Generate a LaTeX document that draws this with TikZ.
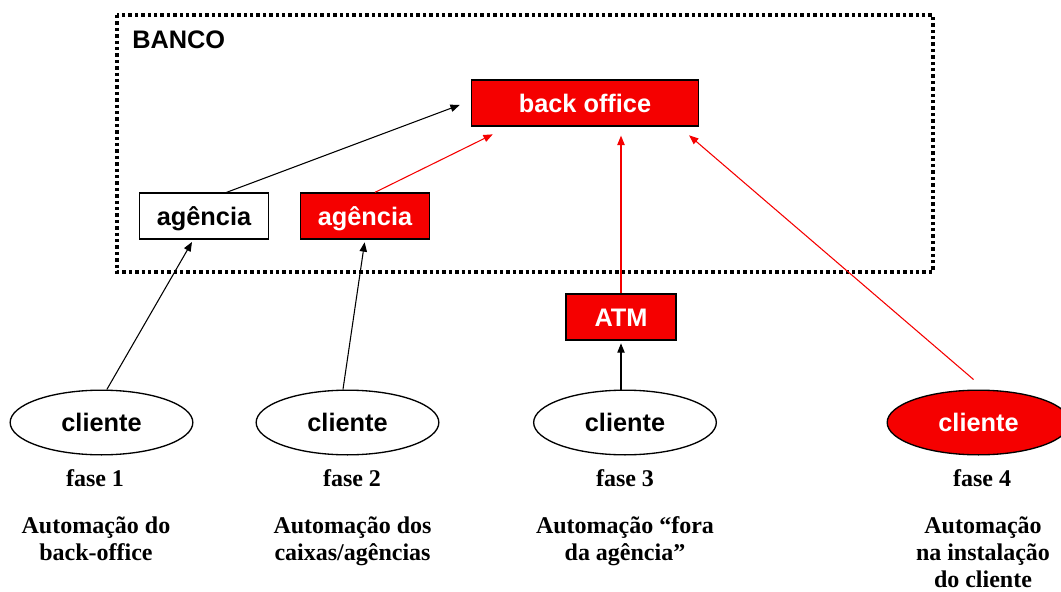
\documentclass[tikz,border=0pt]{standalone}
\usepackage{fontspec}
\setmainfont{Liberation Serif}
\setsansfont{Liberation Sans}
\usetikzlibrary{arrows.meta}
\usetikzlibrary{shapes.geometric}
\definecolor{vermelho}{RGB}{245,0,0}
\begin{document}
\begin{tikzpicture}[x=0.75pt,y=-0.75pt,
	caixa/.style={draw=black,line width=1pt,minimum height=34.5pt,inner sep=0pt,
		text height=14.5pt,text depth=0pt,
		font=\sffamily\bfseries\fontsize{19}{22}\selectfont},
	caixav/.style={caixa,fill=vermelho,text=white},
	cli/.style={ellipse,draw=black,line width=1pt,minimum width=137pt,minimum height=48.5pt,
		inner sep=0pt,text height=14pt,text depth=0pt,
		font=\sffamily\bfseries\fontsize{19}{22}\selectfont},
	seta/.style={-{Triangle[length=7pt,width=5.5pt]},line width=0.8pt},
	fase/.style={inner sep=0pt,align=center,font=\rmfamily\bfseries\fontsize{18}{20.25}\selectfont}]
		\useasboundingbox (0,0) rectangle (1061,592);
		% banco
		\draw[line width=2.6pt,dash pattern=on 2.6pt off 2.2pt] (117,15) rectangle (933,272);
		\node[anchor=base west,inner sep=0pt,font=\sffamily\bfseries\fontsize{19}{22}\selectfont] (banco) at (132,48.5) {BANCO};
		\node[caixav,minimum width=170pt] (bo) at (585,103) {back office};
		\node[caixa,minimum width=97pt] (ag1) at (204,216) {agência};
		\node[caixav,minimum width=97pt] (ag2) at (365,216) {agência};
		\node[caixav,minimum width=82.5pt] (atm) at (621,317) {ATM};
		% clientes
		\node[cli] (cl1) at (101.5,422.5) {cliente};
		\node[cli] (cl2) at (347.5,422.5) {cliente};
		\node[cli] (cl3) at (625,422.5) {cliente};
		\node[cli,fill=vermelho,text=white] (cl4) at (978.5,422.5) {cliente};
		% fases
		\node[fase,anchor=base] (f1) at (95,486) {fase 1};
		\node[fase,anchor=base] (f2) at (352,486) {fase 2};
		\node[fase,anchor=base] (f3) at (625,486) {fase 3};
		\node[fase,anchor=base] (f4) at (982,486) {fase 4};
		\node[fase,anchor=north] (d1) at (96,516.5) {Automação do\\back-office};
		\node[fase,anchor=north] (d2) at (352.5,516.5) {Automação dos\\caixas/agências};
		\node[fase,anchor=north] (d3) at (625,516.5) {Automação “fora\\da agência”};
		\node[fase,anchor=north] (d4) at (983,516.5) {Automação\\na instalação\\do cliente};
		% setas
		\draw[seta,shorten >=2pt] ([xshift=4pt]cl1.north) -- ([xshift=-8pt]ag1.south);
		\draw[seta,shorten >=2pt] ([xshift=-3.4pt]cl2.north) -- (ag2.south);
		\draw[seta,shorten >=2pt] (cl3.north -| atm.south) -- (atm.south);
		\draw[seta,shorten >=9pt] ([xshift=17pt]ag1.north) -- ([yshift=1.7pt]bo.west);
		\draw[seta,vermelho,shorten >=13pt] ([xshift=7.5pt]ag2.north) -- ([xshift=28pt]bo.south west);
		\draw[seta,vermelho,shorten >=6.75pt] (atm.north) -- (atm.north |- bo.south);
		\draw[seta,vermelho,shorten <=11.5pt,shorten >=10pt] ([xshift=5pt]cl4.north) -- ([xshift=-15pt]bo.south east);
\end{tikzpicture}
\end{document}
